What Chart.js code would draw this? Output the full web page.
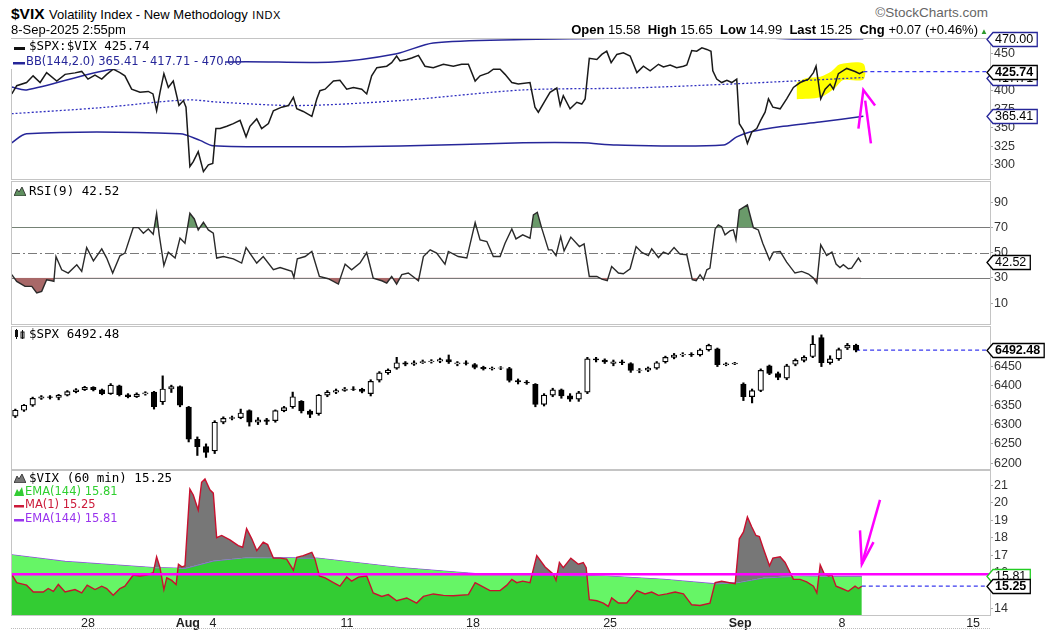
<!DOCTYPE html>
<html>
<head>
<meta charset="utf-8">
<title>$VIX Volatility Index</title>
<script src="https://cdn.jsdelivr.net/npm/chart.js@4.4.1/dist/chart.umd.min.js"></script>
<style>
  html, body { margin: 0; padding: 0; background: #fff; }
  #page { position: relative; width: 1064px; height: 631px; overflow: hidden; font-family: "Liberation Sans", Arial, sans-serif; color: #000; }
  canvas { position: absolute; left: 0; }
  .t { position: absolute; white-space: nowrap; line-height: 15px; }
  .mono { font-family: "DejaVu Sans Mono", monospace; font-size: 12.5px; }
  .leg { font-family: "DejaVu Sans", sans-serif; font-size: 11.5px; }
  .t svg { vertical-align: -1px; margin-right: 3px; }
</style>
</head>
<body>
<div id="page">
  <canvas id="c1" width="1064" height="169" style="top:24px"></canvas>
  <canvas id="c2" width="1064" height="171" style="top:167px"></canvas>
  <canvas id="c3" width="1064" height="171" style="top:312px"></canvas>
  <canvas id="c4" width="1064" height="176" style="top:456px"></canvas>

  <div class="t" style="left:11px;top:5px;line-height:18px">
    <span style="font-weight:bold;font-size:15.5px">$VIX</span>
    <span style="font-size:13px">Volatility Index - New Methodology</span>
    <span style="font-size:11px;letter-spacing:0.6px">INDX</span>
  </div>
  <div class="t" style="left:11px;top:22px;font-size:13px">8-Sep-2025 2:55pm</div>
  <div class="t" style="right:76px;top:5px;font-size:13.5px;color:#666">&copy;StockCharts.com</div>
  <div class="t" style="right:86px;top:22px;font-size:13px">
    <b>Open</b> 15.58&nbsp; <b>High</b> 15.65&nbsp; <b>Low</b> 14.99&nbsp; <b>Last</b> 15.25&nbsp; <b>Chg</b> +0.07 (+0.46%)
  </div>
  <div class="t" style="left:980px;top:24px;font-size:8px;color:#2a9a2a">&#9650;</div>

  <!-- panel 1 legend -->
  <div class="t" style="left:11px;top:39px;width:214px;height:30px;background:#fff"></div>
  <div class="t mono" style="left:14px;top:38px"><svg width="12" height="4"><rect x="0" y="0" width="11" height="3" fill="#111"/></svg>$SPX:$VIX 425.74</div>
  <div class="t leg" style="left:13px;top:54px;color:#262699"><svg width="12" height="4" style="margin-right:1px"><rect x="0" y="0" width="12" height="2.5" fill="#262699"/></svg>BB(144,2.0) 365.41 - 417.71 - 470.00</div>

  <!-- panel 2 legend -->
  <div class="t mono" style="left:14px;top:183px"><svg width="12" height="10"><path d="M0 10 L3 3 L5 6 L8 1 L12 10 Z" fill="#5f8f5f" stroke="#222" stroke-width="0.8"/></svg>RSI(9) 42.52</div>

  <!-- panel 3 legend -->
  <div class="t mono" style="left:14px;top:326px"><svg width="12" height="10"><rect x="1" y="1" width="3" height="7" fill="#111"/><rect x="7" y="3" width="3" height="6" fill="#fff" stroke="#111" stroke-width="1"/><rect x="2" y="0" width="1" height="10" fill="#111"/><rect x="8" y="1" width="1" height="9" fill="#111"/></svg>$SPX 6492.48</div>

  <!-- panel 4 legend -->
  <div class="t mono" style="left:14px;top:470px"><svg width="12" height="10"><path d="M0 10 L3 3 L5 6 L8 1 L12 10 Z" fill="#777" stroke="#222" stroke-width="0.8"/></svg>$VIX (60 min) 15.25</div>
  <div class="t leg" style="left:14px;top:484px;color:#2fcf2f"><svg width="10" height="10" style="margin-right:1px"><path d="M0 10 L3 3 L5 6 L8 1 L10 10 Z" fill="#33cc33"/></svg>EMA(144) 15.81</div>
  <div class="t leg" style="left:14px;top:497px;color:#cc1a3a"><svg width="10" height="4" style="margin-right:1px"><rect x="0" y="0" width="10" height="2.5" fill="#cc1a3a"/></svg>MA(1) 15.25</div>
  <div class="t leg" style="left:14px;top:511px;color:#9933ee"><svg width="10" height="4" style="margin-right:1px"><rect x="0" y="0" width="10" height="2.5" fill="#9933ee"/></svg>EMA(144) 15.81</div>

  <div style="position:absolute;left:11px;top:628px;width:979px;border-top:1px dotted #bbb"></div>
</div>

<script>
// x positions are trading days, 0 = open of 23 Jul 2025
const xMax = 37.65;
const xTickDays = [2.96, 6.8, 7.77, 12.92, 17.77, 23.04, 28.04, 31.96, 37];
const xTickLabels = ['28', 'Aug', '4', '11', '18', '25', 'Sep', '8', '15'];
const boldLabels = ['Aug', 'Sep'];

// panel 1: $SPX:$VIX with Bollinger bands
const ratioDay = [0.03,0.22,0.6,0.85,1.12,1.37,1.76,2.08,2.46,2.72,2.96,3.23,3.49,3.68,3.93,4.19,4.38,4.64,4.96,5.28,5.46,5.6,5.73,5.88,6.05,6.24,6.46,6.63,6.73,6.88,7.01,7.2,7.4,7.59,7.76,7.88,8.04,8.3,8.55,8.81,9.04,9.19,9.45,9.64,9.9,10.09,10.41,10.67,10.86,10.99,11.24,11.57,11.76,11.88,12.08,12.4,12.65,12.91,13.17,13.49,13.68,13.87,14.07,14.45,14.64,14.83,14.96,15.22,15.41,15.67,15.92,16.24,16.63,17.01,17.33,17.59,17.85,18.04,18.36,18.55,18.81,19.0,19.26,19.51,19.96,20.15,20.28,20.54,20.73,20.99,21.12,21.24,21.5,21.76,21.95,22.08,22.24,22.53,22.72,22.91,23.08,23.3,23.55,23.81,24.07,24.32,24.58,24.9,25.09,25.35,25.6,25.86,25.99,26.18,26.37,26.57,26.76,26.92,26.99,27.14,27.33,27.53,27.72,27.91,28.01,28.17,28.32,28.49,28.68,28.83,29.0,29.13,29.3,29.58,29.83,30.09,30.35,30.67,30.86,30.96,31.14,31.31,31.5,31.63,31.82,32.14,32.46,32.63,32.78];
const ratioVal = [395.6,406.7,411,420,411,424.4,413,422,424,426,415.6,421,415.6,422,429,424.4,420,402,397.8,399,395.6,373,397.8,423,404.4,413,380,386.7,377.8,297.8,304.4,317.8,291,300,302,349,349,352,355.6,360,337.8,352,362,349,355.6,373,377.8,380,391,375.6,372,365.3,388.9,400,402,413,414,402,404.4,402,395.6,420,431,433,437.8,446.7,440,442,444,447.6,433,431,435.6,433,435.6,435.6,413,420,424,429,429,422,411,409,411,377.8,371,386.7,397.8,403.6,380,393.3,375.6,384.4,382,388.9,443.6,442,448.9,453.3,437.8,448.9,451,446.7,424.4,433,426.7,435.6,432,434.7,431,433,434.7,454,453.3,457.8,455.6,453,426.7,415.6,411,414,411,415.6,355.6,346.7,329,344.4,349,360,371,389,377.8,375.6,389,404.4,411,415.6,424.4,433,389,402,408.9,402,423,430,425.8,423,425.74];
const upperDay = [0.03,0.6,3.9,6.8,8.3,12.4,14.83,16.24,19.7,22.9,25,27.5,30.35,32.78];
const upperVal = [405,401,429,431,438.7,438.7,449.8,464.4,469,470.5,472.5,473,469.5,470.0];
const midDay = [0.03,3.42,6.75,8.04,11.1,14.96,19.7,23.81,27.65,30.23,32.78];
const midVal = [369,377,387.6,384.4,380,386.7,401,403.6,408.9,413.3,417.71];
const lowerDay = [0.03,0.6,6.5,7.27,7.77,11.6,14.96,19.7,21.96,23.3,27.4,27.91,28.42,29.7,31.1,32.78];
const lowerVal = [329.8,342,342,333,325.8,324.4,325.3,329.8,329.8,326.7,326.7,337.8,344.4,352,357.8,365.41];
const ratioTicks = [300, 325, 350, 375, 400, 425, 450];
// hand-drawn marks on panel 1
const hlDay = [30.22,30.6,31.12,31.57,31.88,32.78,32.78,32.01,31.69,31.12,30.22];
const hlVal = [411,417,418.7,426.7,435.6,436.4,415,414.3,403.6,391,388.4];
const arrowUpHeadDay = [32.59,32.78,33.23];
const arrowUpHeadVal = [348.9,400.9,380];
const arrowUpShaftDay = [32.85,33.07];
const arrowUpShaftVal = [386.7,328.9];

// panel 2: RSI(9)
const rsiDay = [0.03,0.22,0.54,0.8,0.99,1.18,1.37,1.57,1.65,1.73,1.95,2.2,2.53,2.72,2.91,3.17,3.49,3.68,3.91,4.19,4.38,4.7,4.9,5.09,5.28,5.47,5.6,5.7,5.88,6.05,6.31,6.5,6.69,6.88,7.05,7.2,7.4,7.59,7.78,7.91,8.17,8.55,8.87,9.04,9.45,9.7,10.09,10.35,10.8,10.88,11.01,11.31,11.57,11.86,12.2,12.59,12.85,13.1,13.42,13.68,13.93,14.26,14.45,14.64,14.83,15.03,15.28,15.67,15.86,16.12,16.37,16.69,16.82,17.2,17.53,17.85,18.04,18.3,18.55,18.81,19.0,19.26,19.42,19.68,19.96,20.09,20.24,20.41,20.67,20.8,20.96,21.14,21.27,21.53,21.86,22.04,22.24,22.53,22.72,22.93,23.1,23.36,23.55,23.81,24.04,24.26,24.51,24.64,24.9,25.09,25.28,25.5,25.73,25.99,26.2,26.35,26.5,26.63,26.76,26.88,27.08,27.2,27.33,27.46,27.65,27.78,27.88,28.01,28.32,28.55,28.74,28.91,29.17,29.32,29.58,29.83,30.15,30.41,30.67,30.86,30.99,31.14,31.37,31.57,31.73,31.88,32.01,32.2,32.33,32.59,32.69];
const rsiVal = [32.5,27.2,23.2,23.2,18,19.3,28.5,27.7,27.2,46.9,36.4,33.8,40.4,35.1,54,43.5,53,45.7,33.8,47.5,49.6,69.8,69.8,65.4,68.8,64.6,81.2,64.1,39.8,50.4,45.7,61.5,57.5,81.2,76.7,68,74.1,68,65.4,45.7,46.9,45.1,41.7,54,41.7,46.9,36.4,38.2,35.1,30.3,45.1,46.9,50.9,31.1,29.3,25.1,40.9,36.4,41.7,50.1,29.8,27.7,25.9,31.1,25.1,32.5,33.8,27.7,46.9,52.2,49.6,40.9,50.9,46.9,45.7,73.8,60.1,58.8,46.9,46.9,57.5,68.8,60.9,64.1,61.5,79.9,82,69.4,52.2,52.2,47.7,62.7,51.4,62.3,54.8,57,31.1,31.1,29,27.7,39,33.8,33.2,37.2,54.8,50.1,47.7,53,46.1,50.4,48.8,54,48.8,48.3,28.5,27.7,32.5,28.5,36.4,37.7,68.8,72,70.6,64.1,67.2,68,60.1,83.8,87.8,69.8,68,57.5,44.3,50.4,50.9,42.5,33.8,35.1,33,29.8,25.9,56.2,47.7,50.4,40.9,38.2,40.4,37.2,37.7,45.7,42.52];
const rsiTicks = [10, 30, 50, 70, 90];

// panel 3: $SPX 60-min candles, three per trading day
const spxOpen = [6322,6337,6350,6368,6372,6370,6376,6385,6390,6396,6390,6380,6400,6377,6372,6379,6384,6359,6392,6398,6345,6262,6243,6232,6306,6316,6318,6336,6306,6312,6310,6336,6346,6360,6335,6328,6376,6384,6388,6392,6391,6380,6415,6434,6446,6460,6456,6460,6463,6464,6468,6457,6460,6455,6448,6444,6446,6445,6414,6410,6404,6352,6376,6390,6374,6366,6384,6470,6467,6458,6462,6458,6440,6441,6446,6462,6474,6480,6482,6480,6493,6496,6455,6457,6405,6372,6388,6452,6432,6420,6456,6466,6476,6525,6460,6470,6498,6505];
const spxHigh = [6340,6352,6371,6375,6375,6378,6388,6393,6399,6398,6392,6406,6402,6380,6382,6385,6386,6426,6402,6400,6347,6268,6250,6310,6320,6322,6340,6338,6318,6316,6338,6347,6384,6362,6338,6378,6388,6392,6396,6398,6394,6416,6437,6444,6474,6463,6465,6467,6468,6472,6480,6463,6465,6458,6451,6449,6450,6448,6418,6414,6406,6380,6394,6392,6380,6386,6474,6474,6470,6467,6467,6460,6445,6449,6463,6477,6484,6486,6486,6496,6508,6498,6460,6461,6408,6392,6444,6454,6436,6456,6470,6478,6530,6532,6478,6498,6510,6508];
const spxLow = [6318,6334,6347,6365,6366,6364,6374,6382,6388,6387,6377,6378,6374,6369,6370,6376,6340,6352,6383,6346,6255,6220,6215,6225,6302,6312,6315,6296,6300,6300,6306,6333,6342,6330,6318,6324,6372,6380,6386,6388,6382,6374,6410,6430,6443,6452,6453,6458,6459,6460,6458,6452,6454,6444,6441,6441,6442,6410,6405,6404,6346,6348,6372,6368,6360,6360,6380,6462,6458,6452,6455,6435,6434,6437,6443,6459,6470,6476,6476,6477,6490,6450,6452,6455,6362,6356,6385,6429,6416,6416,6452,6462,6473,6450,6456,6466,6494,6488];
const spxClose = [6337,6350,6368,6372,6370,6376,6385,6390,6396,6390,6380,6402,6377,6372,6379,6382,6346,6392,6398,6350,6262,6243,6228,6306,6316,6318,6330,6306,6312,6308,6336,6344,6372,6335,6326,6376,6384,6388,6392,6391,6386,6412,6434,6441,6460,6456,6460,6463,6464,6468,6462,6460,6458,6448,6444,6446,6447,6414,6410,6408,6352,6376,6390,6374,6366,6382,6470,6467,6462,6462,6460,6440,6441,6446,6460,6474,6480,6482,6480,6493,6505,6455,6457,6459,6372,6388,6440,6432,6422,6452,6466,6474,6508,6460,6470,6494,6505,6492.48];
const spxDay = spxOpen.map((_, i) => (i + 0.5) / 3);
const spxTicks = [6200, 6250, 6300, 6350, 6400, 6450];

// panel 4: $VIX 60 min with EMA(144)
const vixDay = [0.03,0.22,0.6,0.86,1.24,1.43,1.63,1.82,2.08,2.46,2.72,2.93,3.23,3.49,3.68,3.93,4.19,4.38,4.7,4.96,5.22,5.47,5.6,5.73,5.88,5.99,6.18,6.35,6.44,6.57,6.69,6.88,7.01,7.2,7.33,7.46,7.65,7.78,7.91,8.1,8.42,8.74,8.91,9.06,9.26,9.45,9.7,9.87,10.09,10.35,10.6,10.86,10.99,11.24,11.57,11.69,11.86,12.08,12.4,12.65,12.91,13.1,13.36,13.68,13.93,14.26,14.51,14.83,15.22,15.6,15.86,16.24,16.63,17.01,17.59,17.85,18.1,18.42,18.81,19.07,19.26,19.45,19.68,19.96,20.22,20.54,20.86,20.96,21.09,21.24,21.53,21.82,22.01,22.12,22.24,22.53,22.78,22.97,23.1,23.36,23.68,24.07,24.38,24.64,24.9,25.22,25.54,25.86,26.18,26.5,26.88,27.08,27.33,27.63,27.85,28.01,28.17,28.32,28.49,28.65,28.78,28.94,29.17,29.3,29.58,29.77,30.09,30.35,30.6,30.86,30.99,31.12,31.27,31.44,31.57,31.73,31.95,32.2,32.46,32.59,32.72];
const vixVal = [15.93,15.45,15.31,14.92,14.92,15.12,14.96,15.35,14.92,15.06,14.87,15.31,15.06,15.25,15.12,14.73,15.12,15.25,15.89,15.83,15.89,16.02,16.93,16.31,15.06,15.73,15.58,15.35,16.5,16.35,16.41,20.78,20.45,19.59,21.17,21.36,20.74,20.55,18.01,18.14,17.89,17.56,17.47,18.53,17.95,17.28,17.76,17.62,16.85,16.85,16.79,16.16,16.89,16.99,17.18,16.79,15.83,15.73,15.45,15.25,15.77,15.54,15.77,15.83,14.87,14.67,14.77,14.42,14.58,14.29,14.67,14.81,14.73,14.71,14.77,15.45,15.25,15.0,15.0,15.31,15.64,15.45,15.54,15.45,16.99,16.35,15.93,15.58,16.6,16.31,16.85,16.5,16.6,16.31,14.48,14.42,14.29,14.1,14.58,14.29,14.29,15.0,14.81,14.92,14.73,14.81,14.92,14.81,14.19,14.15,14.29,15.45,15.54,15.45,15.39,17.95,18.34,19.2,18.62,18.14,18.08,17.37,16.41,16.85,16.93,16.6,15.64,15.64,15.5,15.25,14.87,16.47,15.97,15.83,15.89,15.25,15.12,14.96,15.25,15.12,15.25];
const emaDay = [0.03,2.08,5.47,6.69,7.78,9.06,11.76,14.96,17.85,22.91,25.09,27.01,27.91,28.94,30.22,31.5,32.72];
const emaVal = [17.04,16.66,16.31,16.27,16.7,16.89,16.85,16.31,15.97,15.83,15.64,15.39,15.45,15.73,15.83,15.81,15.81];
const vixTicks = [14, 15, 16, 17, 18, 19, 20, 21];
// hand-drawn marks on panel 4
const vixMarkLevel = 15.93;
const arrowDownHeadDay = [32.65,32.72,33.17];
const arrowDownHeadVal = [18.43,16.5,17.76];
const arrowDownShaftDay = [33.42,32.72];
const arrowDownShaftVal = [20.17,16.5];

Chart.defaults.font.family = '"Liberation Sans", Arial, sans-serif';
Chart.defaults.elements.point.radius = 0;

function pts(days, vals) {
  return days.map((d, i) => ({ x: d, y: vals[i] }));
}
function lastLine(days, vals) {
  const v = vals[vals.length - 1];
  return [{ x: days[days.length - 1], y: v }, { x: xMax, y: v }];
}

const tagPlugin = {
  id: 'tags',
  afterDraw(chart, args, o) {
    const ctx = chart.ctx, y = chart.scales.y, x0 = chart.chartArea.right - 3;
    (o.items || []).forEach(t => {
      const py = Math.round(y.getPixelForValue(t.value)) + 0.5;
      ctx.save();
      ctx.font = (t.bold ? 'bold ' : '') + '12.5px "Liberation Sans", Arial';
      const w = ctx.measureText(t.text).width + 6, h = 14;
      ctx.beginPath();
      ctx.moveTo(x0, py);
      ctx.lineTo(x0 + 6, py - h / 2);
      ctx.lineTo(x0 + 6 + w, py - h / 2);
      ctx.lineTo(x0 + 6 + w, py + h / 2);
      ctx.lineTo(x0 + 6, py + h / 2);
      ctx.closePath();
      ctx.fillStyle = '#fff';
      ctx.fill();
      ctx.lineWidth = 1.3;
      ctx.strokeStyle = t.color;
      ctx.stroke();
      ctx.fillStyle = '#000';
      ctx.textBaseline = 'middle';
      ctx.fillText(t.text, x0 + 8, py + 0.5);
      ctx.restore();
    });
  }
};

const framePlugin = {
  id: 'frame',
  beforeDatasetsDraw(chart, args, o) {
    const { ctx, chartArea: a } = chart, y = chart.scales.y;
    (o.levels || []).forEach(l => {
      const py = Math.round(y.getPixelForValue(l.value)) + 0.5;
      ctx.save();
      ctx.strokeStyle = '#7a7a7a';
      ctx.lineWidth = 1.2;
      ctx.setLineDash(l.dash || []);
      ctx.beginPath();
      ctx.moveTo(a.left, py);
      ctx.lineTo(a.right, py);
      ctx.stroke();
      ctx.restore();
    });
  },
  afterDatasetsDraw(chart) {
    const { ctx, chartArea: a } = chart;
    ctx.save();
    ctx.strokeStyle = '#c4c4c4';
    ctx.lineWidth = 1;
    ctx.strokeRect(Math.round(a.left) + 0.5, Math.round(a.top) + 0.5, Math.round(a.right - a.left), Math.round(a.bottom - a.top));
    ctx.restore();
  }
};

function xScale(show) {
  return {
    type: 'linear', min: 0, max: xMax, offset: false, display: show,
    afterBuildTicks: s => { s.ticks = xTickDays.map(v => ({ value: v })); },
    grid: { display: false, drawTicks: false },
    border: { display: false },
    ticks: {
      autoSkip: false, maxRotation: 0, padding: 1, color: '#222',
      callback: (v, i) => xTickLabels[i],
      font: c => ({ size: 12.5, weight: boldLabels.includes(xTickLabels[c.index]) ? 'bold' : 'normal' })
    }
  };
}

function yScale(min, max, ticks) {
  return {
    position: 'right', min, max,
    afterBuildTicks: s => { s.ticks = ticks.map(v => ({ value: v })); },
    afterFit: s => { s.width = 74; },
    grid: { drawOnChartArea: false, drawTicks: true, tickLength: 3, color: '#aaa' },
    border: { display: true, color: '#aaa' },
    ticks: { padding: 1, color: '#333', font: { size: 12.5 }, callback: v => String(v) }
  };
}

function options(y, showX, tags, levels) {
  return {
    responsive: false, animation: false, events: [],
    layout: { padding: { left: 11, right: 0, top: 14, bottom: showX ? 0 : 14 } },
    plugins: {
      legend: { display: false }, tooltip: { enabled: false },
      tags: { items: tags }, frame: { levels: levels || [] }
    },
    scales: { x: xScale(showX), y }
  };
}

// panel 1
new Chart(document.getElementById('c1'), {
  type: 'line',
  data: { datasets: [
    { data: pts(hlDay, hlVal), fill: 'shape', backgroundColor: '#ffff00', borderWidth: 0, tension: 0.3, order: 9 },
    { data: pts(upperDay, upperVal), borderColor: '#262699', borderWidth: 1.5, tension: 0.3, order: 6 },
    { data: pts(lowerDay, lowerVal), borderColor: '#262699', borderWidth: 1.5, tension: 0.3, order: 6 },
    { data: pts(midDay, midVal), borderColor: '#3030c0', borderWidth: 1.3, borderDash: [2, 2], tension: 0.3, order: 6 },
    { data: pts(ratioDay, ratioVal), borderColor: '#1a1a1a', borderWidth: 1.5, order: 3 },
    { data: lastLine(ratioDay, ratioVal), borderColor: '#3a3aee', borderWidth: 1.2, borderDash: [4, 3], order: 2 },
    { data: pts(arrowUpHeadDay, arrowUpHeadVal), borderColor: '#ff00ff', borderWidth: 2.5, order: 1 },
    { data: pts(arrowUpShaftDay, arrowUpShaftVal), borderColor: '#ff00ff', borderWidth: 2.5, order: 1 }
  ]},
  options: options(yScale(281, 471, ratioTicks), false, [
    { value: 470.00, text: '470.00', color: '#262699' },
    { value: 417.71, text: '417.71', color: '#262699' },
    { value: 365.41, text: '365.41', color: '#262699' },
    { value: 425.74, text: '425.74', color: '#000', bold: true }
  ]),
  plugins: [framePlugin, tagPlugin]
});

// panel 2
new Chart(document.getElementById('c2'), {
  type: 'line',
  data: { datasets: [
    { data: pts(rsiDay, rsiVal), borderColor: '#2a2a2a', borderWidth: 1.4,
      fill: { target: { value: 70 }, above: '#6a9a6a', below: 'transparent' }, order: 2 },
    { data: pts(rsiDay, rsiVal), borderWidth: 0,
      fill: { target: { value: 30 }, above: 'transparent', below: '#a86868' }, order: 3 }
  ]},
  options: options(yScale(-6.6, 106.8, rsiTicks), false,
    [{ value: 42.52, text: '42.52', color: '#000' }],
    [{ value: 70 }, { value: 30 }, { value: 50, dash: [9, 3, 2, 3] }]),
  plugins: [framePlugin, tagPlugin]
});

// panel 3
new Chart(document.getElementById('c3'), {
  type: 'bar',
  data: { datasets: [
    { type: 'line', data: lastLine(spxDay, spxClose), borderColor: '#3a3aee', borderWidth: 1.4, borderDash: [4, 3], order: 3 },
    { data: spxDay.map((d, i) => ({ x: d, y: [spxLow[i], spxHigh[i]] })), backgroundColor: '#000',
      barThickness: 1.5, grouped: false, borderWidth: 0, order: 2 },
    { data: spxDay.map((d, i) => ({ x: d, y: [spxOpen[i], spxClose[i]] })),
      backgroundColor: spxOpen.map((o, i) => spxClose[i] > o ? '#fff' : '#000'),
      borderColor: '#000', borderWidth: 1.2, borderSkipped: false, barThickness: 5.5, grouped: false, order: 1 }
  ]},
  options: options(yScale(6185, 6555, spxTicks), false, [{ value: 6492.48, text: '6492.48', color: '#000', bold: true }]),
  plugins: [framePlugin, tagPlugin]
});

// panel 4
new Chart(document.getElementById('c4'), {
  type: 'line',
  data: { datasets: [
    { data: pts(emaDay, emaVal), fill: 'start', backgroundColor: '#33cc33', borderWidth: 0, order: 10 },
    { data: pts(vixDay, vixVal), borderColor: '#c8102e', borderWidth: 1.4,
      fill: { target: 0, above: '#777777', below: '#66f566' }, order: 5 },
    { data: pts(emaDay, emaVal), borderColor: '#9955ee', borderWidth: 1.3, order: 6 },
    { data: [{ x: 0, y: vixMarkLevel }, { x: xMax, y: vixMarkLevel }], borderColor: '#ff00ff', borderWidth: 2.5, order: 3 },
    { data: lastLine(vixDay, vixVal), borderColor: '#3a3aee', borderWidth: 1.2, borderDash: [4, 3], order: 2 },
    { data: pts(arrowDownHeadDay, arrowDownHeadVal), borderColor: '#ff00ff', borderWidth: 2.5, order: 1 },
    { data: pts(arrowDownShaftDay, arrowDownShaftVal), borderColor: '#ff00ff', borderWidth: 2.5, order: 1 }
  ]},
  options: options(yScale(13.61, 21.87, vixTicks), true, [
    { value: 15.81, text: '15.81', color: '#22cc22' },
    { value: 15.25, text: '15.25', color: '#000', bold: true }
  ]),
  plugins: [framePlugin, tagPlugin]
});
</script>
</body>
</html>
